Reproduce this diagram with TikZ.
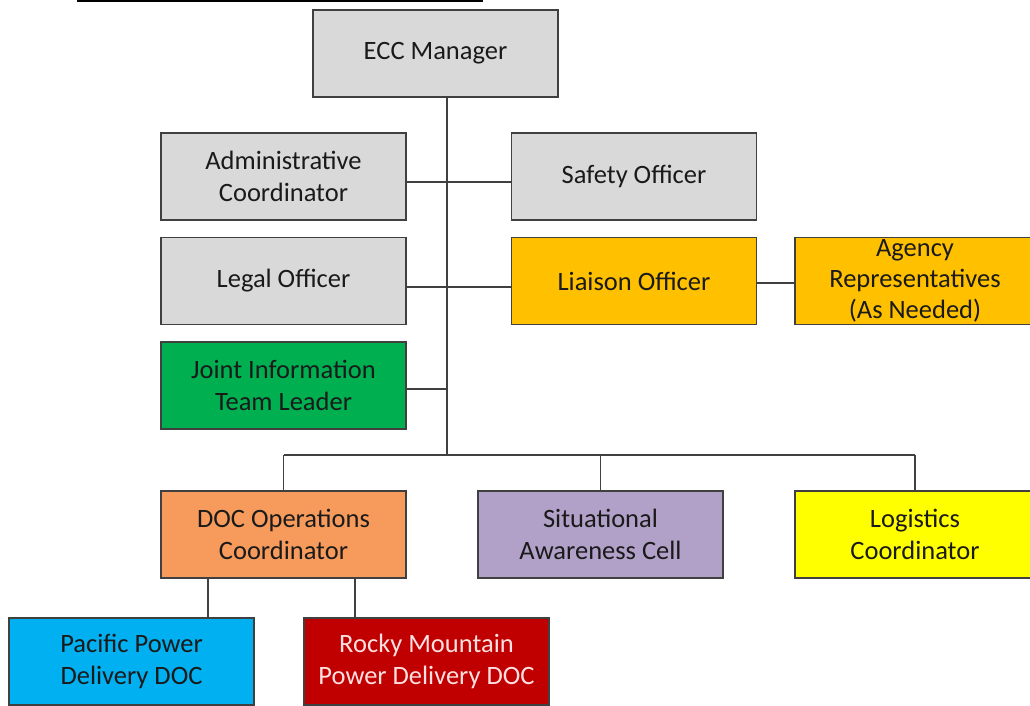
\documentclass[tikz,border=0pt]{standalone}
\usepackage{fontspec}
\setmainfont{Carlito}
\definecolor{boxgray}{HTML}{D9D9D9}
\definecolor{amber}{HTML}{FFC000}
\definecolor{jgreen}{HTML}{00B050}
\definecolor{docorange}{HTML}{F79B5C}
\definecolor{purp}{HTML}{B1A0C7}
\definecolor{yel}{HTML}{FFFF00}
\definecolor{sky}{HTML}{00B0F0}
\definecolor{dred}{HTML}{C00000}
\definecolor{linec}{HTML}{404040}
\definecolor{txt}{HTML}{1A1A1A}
\begin{document}
\begin{tikzpicture}[x=1pt,y=-1pt,
  orgbox/.style={draw=linec, line width=1.6pt, minimum width=245pt, minimum height=87pt,
    inner sep=0pt, align=center, font=\fontsize{26.5}{32}\selectfont, text=txt},
  conn/.style={draw=linec, line width=1.8pt}]
\useasboundingbox (0,0) rectangle (1030,705);
\fill[white] (0,0) rectangle (1030,705);
\coordinate (tl) at (77,1);
\coordinate (tr) at (483,1);
\draw[black, line width=2pt] (tl) -- (tr);
\node[orgbox, fill=boxgray] (ecc) at (435.5,53.5) {ECC Manager};
\node[orgbox, fill=boxgray] (adm) at (283.5,176.5) {Administrative\\Coordinator};
\node[orgbox, fill=boxgray] (saf) at (634,176.5) {Safety Officer};
\node[orgbox, fill=boxgray] (leg) at (283.5,281) {Legal Officer};
\node[orgbox, fill=amber] (lia) at (634,281) {Liaison Officer};
\node[orgbox, fill=amber, minimum width=240pt, font=\fontsize{26.5}{31}\selectfont] (age) at (915,281) {Agency\\Representatives\\(As Needed)};
\node[orgbox, fill=jgreen] (jit) at (283.5,385.5) {Joint Information\\Team Leader};
\node[orgbox, fill=docorange] (doc) at (283.5,534.5) {DOC Operations\\Coordinator};
\node[orgbox, fill=purp] (sit) at (600.5,534.5) {Situational\\Awareness Cell};
\node[orgbox, fill=yel, minimum width=240pt] (log) at (915,534.5) {Logistics\\Coordinator};
\node[orgbox, fill=sky] (pac) at (131.5,661.5) {Pacific Power\\Delivery DOC};
\node[orgbox, fill=dred, text=white!88!red] (roc) at (426.5,661.5) {Rocky Mountain\\Power Delivery DOC};
% trunk
\coordinate (bus) at (447,455);
\draw[conn] (ecc.south -| bus) -- (bus);
\draw[conn] ([yshift=-5.5pt]adm.east) -- ([yshift=-5.5pt]saf.west);
\draw[conn] ([yshift=-6pt]leg.east) -- ([yshift=-6pt]lia.west);
\draw[conn] ([yshift=-2pt]lia.east) -- ([yshift=-2pt]age.west);
\draw[conn] ([yshift=-3.5pt]jit.east) -- ([yshift=-3.5pt]jit.east -| bus);
\draw[conn] (doc.north |- bus) -- (log.north |- bus);
\draw[conn] (doc.north |- bus) -- (doc.north);
\draw[conn] (sit.north |- bus) -- (sit.north);
\draw[conn] (log.north |- bus) -- (log.north);
\coordinate (dl) at (208,578);
\coordinate (dr) at (355,578);
\draw[conn] (dl) -- (dl |- pac.north);
\draw[conn] (dr) -- (dr |- roc.north);
\end{tikzpicture}
\end{document}
